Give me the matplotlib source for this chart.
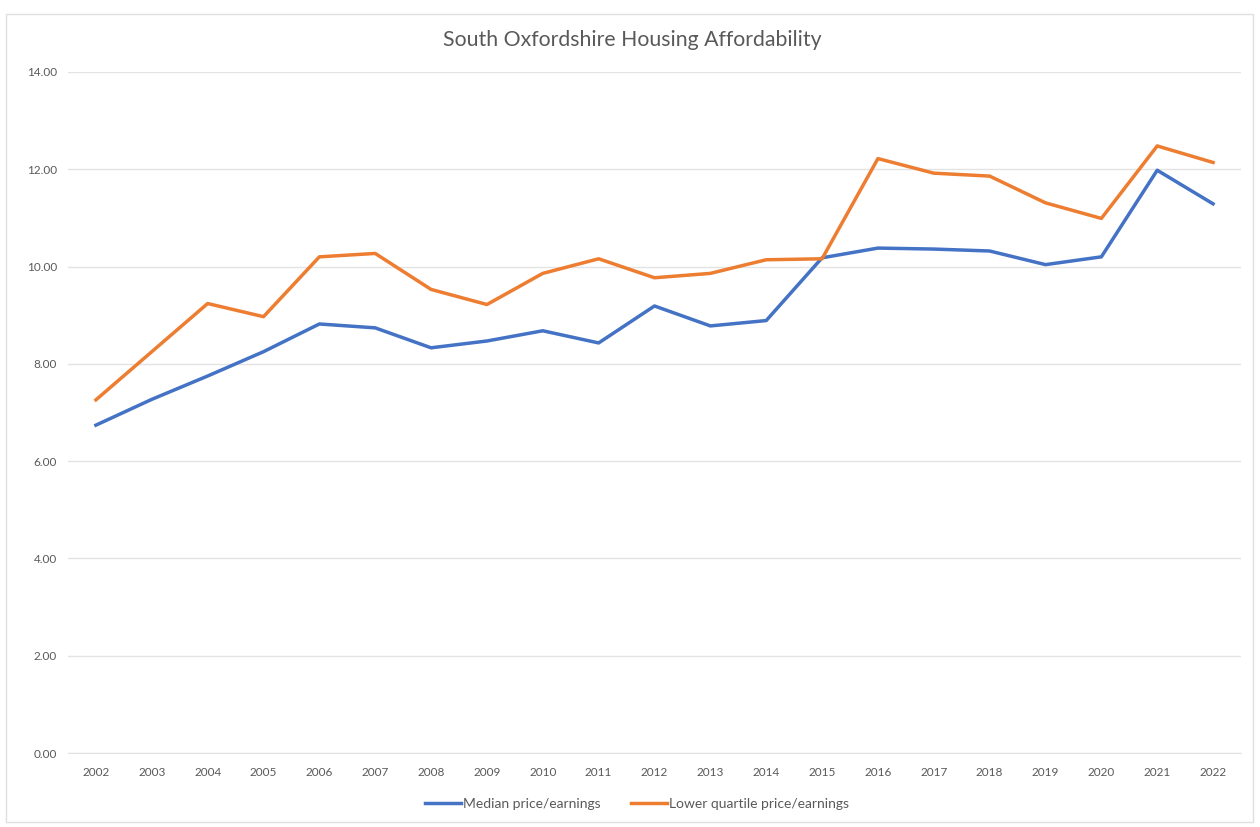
import matplotlib.pyplot as plt
from matplotlib.patches import Rectangle

years = [str(y) for y in range(2002, 2023)]
median = [6.74, 7.27, 7.75, 8.25, 8.82, 8.74, 8.33, 8.47, 8.68, 8.43, 9.19,
          8.78, 8.89, 10.18, 10.38, 10.36, 10.32, 10.04, 10.20, 11.98, 11.29]
lower_quartile = [7.26, 8.25, 9.24, 8.97, 10.20, 10.27, 9.53, 9.22, 9.86, 10.16, 9.77,
                  9.86, 10.14, 10.16, 12.22, 11.92, 11.86, 11.31, 10.99, 12.48, 12.14]

plt.rcParams['font.family'] = ['Lato', 'DejaVu Sans']
text_col = '#595959'

fig = plt.figure(figsize=(12.6, 8.27), dpi=100)
ax = fig.add_axes([68 / 1260, 1 - 753 / 827, (1241 - 68) / 1260, (753 - 72) / 827])

# chart area border
fig.patches.append(Rectangle((6 / 1260, 5 / 827), 1247 / 1260, 808 / 827,
                             transform=fig.transFigure, fill=False,
                             edgecolor='#e0e0e0', linewidth=1))

x = range(len(years))
ax.plot(x, median, color='#4472C4', linewidth=2.5, label='Median price/earnings',
        solid_joinstyle='round')
ax.plot(x, lower_quartile, color='#ED7D31', linewidth=2.5,
        label='Lower quartile price/earnings', solid_joinstyle='round')

ax.set_xlim(-0.5, len(years) - 0.5)
ax.set_ylim(0, 14)
ax.set_yticks(range(0, 15, 2))
ax.set_yticklabels([f'{v:.2f}' for v in range(0, 15, 2)])
ax.set_xticks(list(x))
ax.set_xticklabels(years)
ax.tick_params(axis='both', length=0, labelsize=8.5, labelcolor=text_col)
ax.tick_params(axis='y', pad=8)
ax.tick_params(axis='x', pad=10)
ax.grid(axis='y', color='#e3e3e3', linewidth=1)
ax.set_axisbelow(True)
for s in ['top', 'right', 'left']:
    ax.spines[s].set_visible(False)
ax.spines['bottom'].set_color('#e3e3e3')

fig.text(632 / 1260, 1 - 40 / 827, 'South Oxfordshire Housing Affordability',
         ha='center', va='center', fontsize=15.3, color=text_col)

fig.legend(loc='center', bbox_to_anchor=(637 / 1260, 1 - 804 / 827), ncol=2,
           frameon=False, fontsize=10, labelcolor=text_col, handlelength=2.6,
           handletextpad=0.15, columnspacing=2.2)

fig.savefig('out.png', dpi=100, facecolor='white')
